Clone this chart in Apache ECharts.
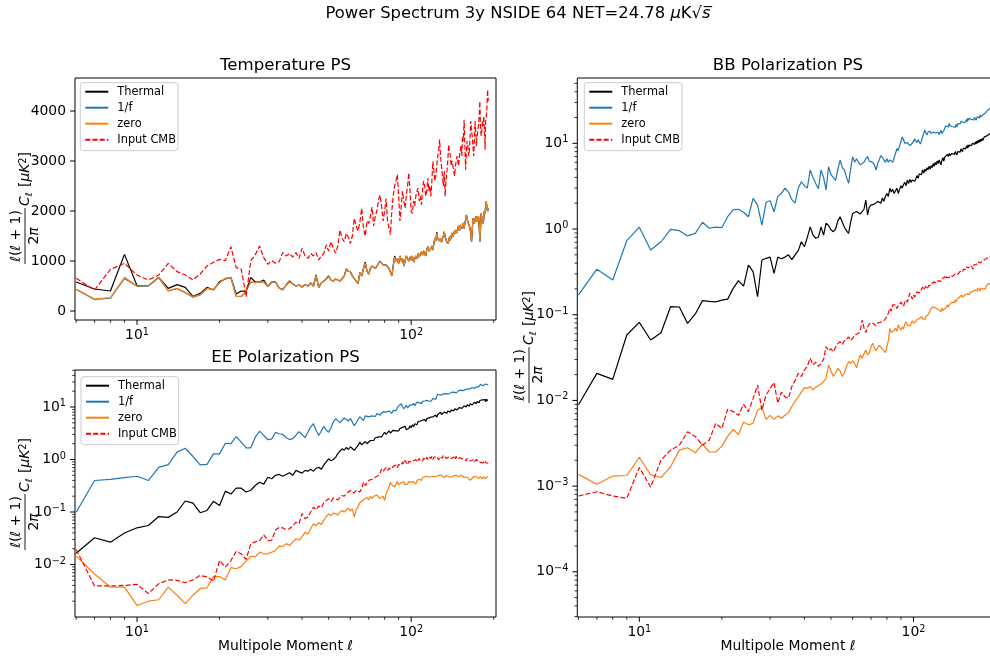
<!DOCTYPE html>
<html><head><meta charset="utf-8">
<script src="https://cdn.jsdelivr.net/npm/echarts@6/dist/echarts.min.js"></script>
<style>html,body{margin:0;padding:0;background:#fff}#c{width:990px;height:659px}</style>
</head><body><div id="c"></div>
<script>
// multipole moments l = 6 .. 191
const ell = Array.from({length:186},(_,i)=>i+6);
const seriesNames = ['Thermal','1/f','zero','Input CMB'];
const xMajorTicks = [10,100];
const xMinorTicks = [6,7,8,9,20,30,40,50,60,70,80,90,200];
const tMajorTicks = [0,1000,2000,3000,4000];

// ---------- Temperature PS ----------
const T_thermal = [
580,440,400,1133,507,507,673,453,527,473,
287,353,473,420,587,640,673,340,400,393,
673,580,580,620,487,580,580,460,430,520,
600,540,500,520,480,530,500,560,500,720,
473,560,600,640,700,620,600,640,620,600,
650,700,840,790,787,700,650,600,553,767,
700,850,980,800,740,850,900,880,850,900,
950,1000,960,920,953,920,900,850,780,700,
900,1100,1000,1050,950,1100,1000,1050,900,1000,
1100,1050,1000,1080,1020,1100,980,1020,1100,1050,
1150,1080,1100,1180,1120,1200,1150,1100,1230,1287,
1200,1180,1250,1300,1220,1350,1450,1400,1580,1450,
1480,1400,1453,1380,1413,1500,1580,1500,1420,1450,
1347,1400,1480,1420,1500,1560,1480,1520,1600,1550,
1620,1560,1650,1700,1600,1720,1680,1650,1700,1760,
1653,1750,1820,1920,1850,1780,1780,1700,1650,1550,
1387,1600,1853,1800,1750,1820,1900,1780,1850,1800,
1900,1750,1387,1650,1947,1850,1900,1753,1850,2000,
1950,2100,2187,2050,2000,2053];
const T_onef = [
430,230,255,650,495,500,665,400,448,365,
275,322,450,430,565,650,670,290,290,395,
580,567,580,580,487,580,580,460,420,520,
587,540,500,520,480,530,500,560,500,700,
473,560,600,640,687,620,600,640,620,600,
650,700,840,790,787,700,650,600,553,767,
700,850,953,800,740,850,900,880,850,900,
950,1000,960,920,953,920,900,850,780,700,
900,1073,1000,1050,950,1100,1000,1050,900,1000,
1100,1050,1000,1080,1020,1100,980,1020,1100,1050,
1150,1080,1100,1180,1120,1200,1150,1100,1230,1287,
1200,1180,1250,1300,1220,1350,1450,1400,1553,1450,
1480,1400,1453,1380,1413,1500,1580,1500,1420,1450,
1347,1400,1480,1420,1500,1560,1480,1520,1600,1550,
1620,1560,1650,1700,1600,1720,1680,1650,1700,1760,
1653,1750,1820,1920,1850,1780,1780,1700,1650,1550,
1387,1600,1853,1800,1750,1820,1900,1780,1850,1800,
1900,1750,1387,1650,1947,1850,1900,1753,1850,2000,
1950,2100,2187,2050,2000,2053];
const T_zero = [
440,240,267,673,500,507,673,407,453,373,
280,327,453,433,567,653,673,293,293,400,
580,567,580,580,487,580,580,460,420,520,
587,540,500,520,480,530,500,560,500,700,
473,560,600,640,687,620,600,640,620,600,
650,700,840,790,787,700,650,600,553,767,
700,850,953,800,740,850,900,880,850,900,
950,1000,960,920,953,920,900,850,780,700,
900,1073,1000,1050,950,1100,1000,1050,900,1000,
1100,1050,1000,1080,1020,1100,980,1020,1100,1050,
1150,1080,1100,1180,1120,1200,1150,1100,1230,1287,
1200,1180,1250,1300,1220,1350,1450,1400,1553,1450,
1480,1400,1453,1380,1413,1500,1580,1500,1420,1450,
1347,1400,1480,1420,1500,1560,1480,1520,1600,1550,
1620,1560,1650,1700,1600,1720,1680,1650,1700,1760,
1653,1750,1820,1920,1850,1780,1780,1700,1650,1550,
1387,1600,1853,1800,1750,1820,1900,1780,1850,1800,
1900,1750,1387,1650,1947,1850,1900,1753,1850,2000,
1950,2100,2187,2050,2000,2053];
const T_cmb = [
653,420,833,953,720,620,720,953,787,720,
620,740,900,973,1033,1007,1287,867,833,287,
1007,1127,1300,1067,933,1007,953,987,1167,1100,
1153,1080,1167,1053,1253,1100,1053,1150,1100,1167,
1020,1100,1150,1320,1200,1387,1250,1153,1300,1620,
1450,1387,1553,1480,1347,1500,1853,1700,1600,1780,
2053,1650,1500,1800,1750,1900,2080,1700,1900,2000,
2220,2320,2100,1800,2000,2250,1800,1660,1527,2000,
2300,2500,2600,2727,2300,1800,2100,2400,2200,2060,
2300,2500,2760,2400,1993,1950,2200,2100,2300,2400,
2460,2200,2300,2127,2400,2600,2500,2300,2400,2660,
2400,2500,2293,2600,2993,2800,2600,2700,2900,3100,
3200,3427,3100,2900,2700,2500,2800,2293,2600,2800,
3000,3327,3200,3100,2900,3000,2900,2800,2700,2900,
3000,3100,3060,2900,3100,3200,3300,3100,3500,3400,
3827,3300,2827,3200,3400,3300,3100,3200,3500,3800,
3600,3500,3300,3100,3400,3800,3600,3300,3500,3600,
3700,3900,4193,3700,3500,3600,3800,3700,3900,3600,
3227,3800,3900,4100,4427,4200];

// ---------- EE Polarization PS ----------
const EE_thermal = [
0.0164,0.0323,0.0266,0.0397,0.050,0.0553,0.082,0.079,0.10,0.162,
0.148,0.097,0.107,0.16,0.133,0.25,0.22,0.284,0.284,0.24,
0.26,0.32,0.37,0.34,0.46,0.43,0.5,0.52,0.48,0.52,
0.56,0.5,0.62,0.58,0.55,0.62,0.6,0.65,0.6,0.68,
0.71,0.65,0.78,0.9,1.03,0.95,1.0,1.1,1.3,1.45,
1.6,1.5,1.7,1.55,1.75,1.65,1.5,1.6,1.85,2.14,
1.9,2.0,2.2,2.0,2.1,2.3,2.5,2.3,2.6,2.45,
2.7,2.9,2.7,3.0,3.31,3.0,3.2,3.5,3.2,3.4,
3.6,3.3,3.5,3.8,3.5,3.9,3.6,4.1,3.8,4.3,
3.7,3.4,3.9,4.4,4.0,4.6,4.2,4.8,5.1,4.6,
5.3,4.9,5.4,5.0,5.6,5.2,5.8,5.3,6.0,5.6,
6.2,5.8,6.4,5.9,6.5,6.0,6.6,7.0,6.4,7.2,
6.6,7.5,7.95,7.2,7.8,7.0,8.0,7.4,8.2,7.6,
8.4,7.8,8.6,8.0,8.8,8.2,9.0,8.4,9.2,8.6,
9.4,8.8,9.6,9.0,9.8,9.2,10.0,9.4,10.2,9.6,
10.5,9.8,10.7,10.0,11.0,10.2,11.2,10.4,11.5,10.8,
11.8,11.0,12.0,11.2,12.3,11.4,12.5,11.6,12.8,11.8,
13.0,12.0,13.3,12.2,13.5,12.4,13.7,12.6,14.0,12.8,
13.8,12.6,14.2,13.0,14.0,13.7];
const EE_onef = [
0.099,0.398,0.42,0.45,0.48,0.398,0.71,0.80,1.38,1.64,
1.14,0.79,0.81,1.28,1.28,2.04,2.0,2.74,2.14,1.67,
1.67,2.66,3.46,2.86,2.40,2.45,3.31,3.1,3.0,2.6,
2.4,2.5,2.9,3.4,3.0,2.6,3.3,4.2,4.8,3.6,
2.86,3.5,4.3,3.6,3.3,4.0,5.2,5.96,5.5,5.0,
5.6,6.2,5.8,5.4,6.0,5.2,4.4,5.0,5.8,6.5,
6.0,5.5,6.8,7.4,6.5,6.0,6.8,7.2,6.6,7.5,
7.95,7.0,7.5,8.2,7.6,8.0,7.8,8.4,8.0,7.6,
8.6,9.2,8.5,9.6,10.5,9.8,11.5,10.2,9.25,10.0,
10.8,9.6,10.4,11.0,10.2,10.8,11.8,10.6,11.2,12.4,
11.5,12.0,12.4,11.6,12.8,12.0,13.0,12.2,13.4,12.6,
13.0,13.8,12.8,13.6,14.5,13.5,15.0,14.0,16.0,17.5,
16.5,17.9,16.8,17.5,16.2,17.8,18.5,17.0,18.0,17.4,
18.6,17.6,18.8,17.9,19.0,18.0,17.5,19.2,18.4,19.8,
18.6,20.0,19.0,20.5,19.5,20.0,21.0,19.8,21.5,20.5,
22.0,20.8,21.6,22.5,21.2,22.2,21.0,22.8,22.2,23.0,
21.8,23.5,22.4,24.0,22.5,23.8,22.8,24.5,23.5,25.0,
24.0,26.0,24.5,27.0,25.0,26.5,27.6,25.5,26.8,24.8,
26.0,27.5,25.5,26.5,25.7,26.2];
const EE_zero = [
0.0144,0.0066,0.0037,0.0037,0.00166,0.0020,0.00213,0.0037,0.0026,0.0018,
0.0026,0.0035,0.0036,0.0059,0.0059,0.0051,0.0087,0.0083,0.0092,0.0116,
0.0144,0.014,0.0172,0.016,0.016,0.0172,0.0185,0.0223,0.022,0.025,
0.023,0.027,0.031,0.029,0.034,0.041,0.038,0.048,0.0596,0.055,
0.063,0.058,0.07,0.082,0.092,0.085,0.095,0.092,0.088,0.1,
0.107,0.1,0.11,0.12,0.105,0.115,0.08,0.11,0.125,0.15,
0.14,0.17,0.16,0.19,0.17,0.2,0.18,0.2,0.19,0.21,
0.2,0.18,0.19,0.2,0.166,0.22,0.26,0.3,0.37,0.33,
0.36,0.3,0.34,0.38,0.33,0.32,0.36,0.34,0.38,0.33,
0.36,0.34,0.38,0.35,0.37,0.34,0.38,0.36,0.34,0.4,
0.38,0.42,0.43,0.4,0.45,0.42,0.47,0.44,0.48,0.5,
0.46,0.49,0.47,0.5,0.48,0.46,0.5,0.47,0.49,0.46,
0.5,0.48,0.46,0.5,0.47,0.49,0.45,0.48,0.5,0.46,
0.49,0.47,0.51,0.48,0.46,0.5,0.47,0.49,0.52,0.48,
0.5,0.46,0.49,0.47,0.5,0.48,0.51,0.47,0.49,0.46,
0.5,0.48,0.46,0.49,0.47,0.45,0.48,0.44,0.4,0.42,
0.37,0.44,0.47,0.45,0.48,0.46,0.44,0.47,0.45,0.48,
0.44,0.46,0.43,0.47,0.45,0.43,0.46,0.44,0.47,0.45,
0.43,0.46,0.44,0.47,0.45,0.46];
const EE_cmb = [
0.0193,0.0039,0.0039,0.004,0.0042,0.0028,0.0043,0.0051,0.005,0.0045,
0.0051,0.0062,0.0058,0.0048,0.0119,0.0089,0.0119,0.0177,0.016,0.0125,
0.0248,0.027,0.0286,0.0368,0.0286,0.029,0.0458,0.051,0.05,0.046,
0.048,0.055,0.064,0.06,0.093,0.075,0.08,0.1,0.124,0.11,
0.13,0.12,0.15,0.165,0.178,0.16,0.185,0.178,0.17,0.19,
0.206,0.2,0.22,0.24,0.257,0.25,0.23,0.26,0.25,0.24,
0.28,0.37,0.32,0.36,0.4,0.38,0.42,0.4,0.46,0.44,
0.496,0.55,0.66,0.6,0.64,0.7,0.62,0.68,0.72,0.66,
0.74,0.7,0.78,0.7,0.8,0.86,0.78,0.9,0.82,0.956,
0.88,0.8,0.92,0.85,0.9,0.85,0.95,0.88,1.0,0.9,
0.98,1.05,0.95,1.02,0.94,1.06,1.03,0.98,1.1,1.0,
1.12,1.19,1.05,1.15,1.0,1.1,1.2,1.05,1.15,1.08,
0.98,1.12,1.04,1.16,1.06,1.2,1.1,1.19,1.05,1.14,
1.0,1.12,1.06,1.18,1.04,1.1,1.03,1.12,1.0,1.08,
1.15,1.02,1.1,0.98,1.08,1.0,1.1,1.04,0.96,1.06,
1.0,1.09,1.03,0.95,1.05,0.98,1.04,0.94,1.0,0.92,
0.956,1.02,0.94,0.99,0.9,0.97,0.92,1.0,0.93,0.98,
0.9,0.95,0.956,0.88,0.96,0.9,0.94,0.86,0.92,0.88,
0.95,0.87,0.92,0.84,0.9,0.85];

// ---------- BB Polarization PS ----------
const BB_thermal = [
0.0089,0.0207,0.0176,0.058,0.0814,0.0507,0.0617,0.124,0.123,0.079,
0.102,0.146,0.143,0.141,0.148,0.152,0.203,0.25,0.216,0.38,
0.318,0.162,0.435,0.455,0.47,0.304,0.47,0.45,0.47,0.5,
0.44,0.5,0.56,0.71,0.62,0.8,1.06,0.85,0.78,0.8,
1.06,0.85,1.17,1.1,0.98,0.93,1.0,1.25,1.39,1.2,
1.05,0.95,0.89,1.2,1.52,1.45,1.6,1.65,1.5,1.52,
1.7,2.18,1.46,1.8,1.9,2.0,1.95,1.85,2.1,2.18,
2.0,2.3,2.1,2.4,2.6,2.4,2.99,2.7,2.9,2.6,
2.8,2.99,2.6,2.9,3.2,3.0,3.3,3.5,3.2,3.73,
3.4,3.8,3.5,3.73,3.9,3.6,3.85,4.2,3.9,4.4,
4.6,4.3,4.88,4.5,5.0,4.7,5.2,4.9,5.4,5.0,
5.5,5.2,5.8,5.4,6.0,5.6,6.2,5.8,6.4,6.0,
5.6,6.3,6.8,6.2,6.9,7.2,6.6,7.4,7.0,7.64,
7.2,7.0,7.6,7.3,7.9,7.4,8.0,7.6,7.3,8.0,
7.7,8.3,7.9,8.6,8.2,8.0,8.8,8.4,9.0,8.6,
9.3,8.8,9.55,9.0,9.55,9.2,9.8,9.4,10.0,9.5,
10.2,9.7,10.4,9.8,10.6,10.0,10.8,10.2,11.0,10.4,
11.2,10.6,11.4,10.8,11.0,11.8,11.2,12.0,11.4,12.2,
11.6,12.5,12.0,12.8,12.5,13.0];
const BB_onef = [
0.17,0.34,0.254,0.73,1.05,0.57,0.71,0.99,0.955,0.83,
0.89,1.2,1.02,1.05,1.04,1.39,1.67,1.7,1.57,1.39,
2.28,1.9,1.11,2.05,2.14,1.59,2.4,2.61,3.0,2.7,
2.2,2.0,3.0,3.56,3.2,3.0,4.88,4.0,3.4,2.95,
4.88,4.0,2.85,5.33,4.3,4.0,3.7,5.0,6.38,5.2,
4.88,4.0,3.41,5.0,6.98,6.0,6.6,6.0,5.6,5.33,
6.0,6.6,7.0,6.2,6.4,6.0,5.6,4.88,5.8,6.4,
7.2,6.98,6.4,6.0,6.6,6.0,6.4,6.6,6.0,6.8,
7.6,8.7,8.2,9.4,10.5,11.9,11.0,10.0,9.6,10.2,
10.5,9.4,9.1,10.0,10.5,11.2,10.8,10.2,11.0,10.4,
9.8,10.6,12.0,13.0,14.3,13.2,12.5,13.5,12.8,13.8,
13.0,12.4,13.5,14.0,13.2,13.8,12.8,13.5,12.6,13.2,
14.2,13.0,12.8,14.0,15.0,16.0,15.2,16.5,15.5,17.1,
16.0,15.2,16.4,15.6,14.8,16.0,15.4,16.6,15.5,17.0,
16.2,17.6,16.8,18.0,17.2,18.5,17.6,16.8,18.2,17.5,
19.0,18.0,19.6,18.5,19.6,18.8,20.0,19.0,18.2,19.6,
18.8,20.2,19.2,18.6,19.6,20.4,19.4,20.8,19.8,21.4,
20.2,21.0,20.0,21.5,20.6,22.0,21.0,22.6,21.5,23.5,
22.4,24.5,25.6,24.0,25.0,26.0];
const BB_zero = [
1.37e-3,1.05e-3,1.31e-3,1.33e-3,2.17e-3,1.35e-3,1.26e-3,1.68e-3,2.63e-3,2.8e-3,
2.45e-3,3.1e-3,2.5e-3,2.5e-3,2.93e-3,3.8e-3,4.6e-3,4.0e-3,5.6e-3,5.2e-3,
5.4e-3,7.7e-3,8.3e-3,6.0e-3,6.7e-3,6.0e-3,6.6e-3,6.2e-3,6.7e-3,7.2e-3,
8.5e-3,9.8e-3,0.011,0.0125,0.0141,0.0138,0.0145,0.0133,0.0142,0.0148,
0.0155,0.0165,0.0181,0.0259,0.022,0.019,0.021,0.0237,0.022,0.019,
0.021,0.025,0.0283,0.027,0.029,0.027,0.024,0.029,0.0339,0.031,
0.035,0.0388,0.034,0.036,0.042,0.0464,0.041,0.038,0.04,0.044,
0.043,0.04,0.038,0.036,0.0354,0.05,0.0693,0.062,0.06,0.066,
0.07,0.064,0.076,0.07,0.066,0.072,0.068,0.078,0.0827,0.076,
0.08,0.074,0.079,0.085,0.08,0.077,0.0827,0.088,0.084,0.09,
0.086,0.095,0.09,0.094,0.088,0.096,0.092,0.1,0.105,0.11,
0.118,0.112,0.124,0.118,0.12,0.114,0.12,0.116,0.11,0.115,
0.108,0.12,0.112,0.118,0.11,0.12,0.125,0.13,0.122,0.13,
0.136,0.128,0.14,0.134,0.145,0.138,0.15,0.142,0.15,0.158,
0.148,0.16,0.155,0.165,0.17,0.16,0.168,0.162,0.17,0.165,
0.165,0.175,0.168,0.18,0.172,0.185,0.178,0.194,0.185,0.19,
0.182,0.195,0.188,0.2,0.2,0.19,0.205,0.195,0.2,0.19,
0.205,0.196,0.21,0.2,0.2,0.192,0.21,0.2,0.215,0.205,
0.22,0.21,0.232,0.22,0.235,0.225];
const BB_cmb = [
7.66e-4,8.6e-4,7.66e-4,7.2e-4,1.65e-3,9.7e-4,2.02e-3,2.63e-3,3.0e-3,4.3e-3,
3.8e-3,3.0e-3,3.45e-3,5.4e-3,4.7e-3,7.9e-3,7.4e-3,6.7e-3,9.0e-3,7.4e-3,
0.0105,0.0151,7.7e-3,0.0116,0.0138,0.0162,9.3e-3,0.0125,0.011,0.0106,
0.0145,0.017,0.0207,0.019,0.0226,0.025,0.031,0.026,0.028,0.025,
0.027,0.03,0.0423,0.038,0.04,0.037,0.042,0.046,0.0484,0.045,
0.05,0.052,0.055,0.05,0.053,0.058,0.056,0.0607,0.065,0.0867,
0.07,0.062,0.072,0.078,0.075,0.08,0.077,0.074,0.08,0.076,
0.082,0.079,0.085,0.0867,0.095,0.105,0.119,0.11,0.13,0.125,
0.13,0.118,0.128,0.135,0.14,0.132,0.125,0.14,0.148,0.14,
0.16,0.178,0.165,0.152,0.17,0.16,0.175,0.185,0.194,0.18,
0.19,0.2,0.21,0.195,0.205,0.215,0.2,0.21,0.22,0.232,
0.22,0.235,0.225,0.24,0.23,0.245,0.235,0.25,0.24,0.255,
0.245,0.26,0.25,0.265,0.278,0.26,0.275,0.268,0.28,0.27,
0.285,0.275,0.29,0.28,0.295,0.285,0.3,0.29,0.305,0.295,
0.31,0.3,0.32,0.31,0.33,0.315,0.34,0.325,0.345,0.335,
0.363,0.345,0.36,0.35,0.37,0.355,0.375,0.365,0.38,0.34,
0.385,0.37,0.39,0.38,0.4,0.385,0.415,0.395,0.41,0.4,
0.42,0.405,0.425,0.41,0.43,0.415,0.44,0.425,0.45,0.435,
0.46,0.44,0.475,0.455,0.48,0.465];

const eeMajor = [0.01,0.1,1,10];
const eeMinor = [0.002,0.003,0.004,0.005,0.006,0.007,0.008,0.009,0.02,0.03,0.04,0.05,0.06,0.07,0.08,0.09,0.2,0.3,0.4,0.5,0.6,0.7,0.8,0.9,2,3,4,5,6,7,8,9,20,30,40,50];
const bbMajor = [1e-4,1e-3,0.01,0.1,1,10];
const bbMinor = [3e-5,4e-5,5e-5,6e-5,7e-5,8e-5,9e-5,2e-4,3e-4,4e-4,5e-4,6e-4,7e-4,8e-4,9e-4,0.002,0.003,0.004,0.005,0.006,0.007,0.008,0.009,0.02,0.03,0.04,0.05,0.06,0.07,0.08,0.09,0.2,0.3,0.4,0.5,0.6,0.7,0.8,0.9,2,3,4,5,6,7,8,9,20,30,40,50];

[T_thermal,T_onef,T_zero,T_cmb,EE_thermal,EE_onef,EE_zero,EE_cmb,BB_thermal,BB_onef,BB_zero,BB_cmb].forEach((a,i)=>{ if(a.length!==186) throw new Error('array '+i+' length '+a.length); });

const FONT = 'DejaVu Sans';
const COLORS = ['#000000','#1f77b4','#ff7f0e','#ff0000'];
const XMIN = 5.94, XMAX = 203.9;
const YR = [[-180,4660],[0.001,50.7],[2.97e-5,57.8]];

const chart = echarts.init(document.getElementById('c'), null, {renderer:'canvas'});

const grids = [
  {left:75, top:78, width:421, height:242},
  {left:75, top:370, width:421, height:247},
  {left:577.3, top:78, width:421, height:539}
].map(g=>Object.assign(g,{show:true, borderColor:'#000', borderWidth:1, backgroundColor:'transparent', containLabel:false, outerBoundsMode:'none'}));

const supFmt = v => {
  const l = Math.log10(v), e = Math.round(l);
  if (Math.abs(l-e) > 1e-6) return '';
  return '{b|10}{s|' + (e<0 ? '\u2212'+(-e) : e) + '}';
};
const labRich = {
  b:{fontFamily:FONT, fontSize:13.9, color:'#000', lineHeight:17},
  s:{fontFamily:FONT, fontSize:9.7, color:'#000', lineHeight:6, verticalAlign:'top'}
};

const xAxes = [0,1,2].map(i=>({
  gridIndex:i, type:'log', logBase:10, min:XMIN, max:XMAX,
  axisLine:{show:false}, axisTick:{show:false}, splitLine:{show:false}, minorTick:{show:false},
  axisLabel:{show:true, formatter:supFmt, rich:labRich, margin:7, showMinLabel:false, showMaxLabel:false}
}));
const yAxes = [
  {gridIndex:0, type:'value', min:YR[0][0], max:YR[0][1],
   axisLine:{show:false}, axisTick:{show:false}, splitLine:{show:false},
   axisLabel:{formatter:v=>(v>=0 && v%1000===0)?String(v):'', fontFamily:FONT, fontSize:13.9, color:'#000', margin:9, showMinLabel:false, showMaxLabel:false}},
  {gridIndex:1, type:'log', logBase:10, min:YR[1][0], max:YR[1][1],
   axisLine:{show:false}, axisTick:{show:false}, splitLine:{show:false},
   axisLabel:{formatter:supFmt, rich:labRich, margin:9, showMinLabel:false, showMaxLabel:false}},
  {gridIndex:2, type:'log', logBase:10, min:YR[2][0], max:YR[2][1],
   axisLine:{show:false}, axisTick:{show:false}, splitLine:{show:false},
   axisLabel:{formatter:supFmt, rich:labRich, margin:9, showMinLabel:false, showMaxLabel:false}}
];

const series = [];
const panels = [[T_thermal,T_onef,T_zero,T_cmb],[EE_thermal,EE_onef,EE_zero,EE_cmb],[BB_thermal,BB_onef,BB_zero,BB_cmb]];
panels.forEach((arrs,gi)=>arrs.forEach((arr,si)=>{
  series.push({
    type:'line', name:seriesNames[si], xAxisIndex:gi, yAxisIndex:gi,
    data: ell.map((l,i)=>[l, arr[i]]),
    showSymbol:false, symbol:'none', animation:false, silent:true, z:2,
    lineStyle:{color:COLORS[si], width:1.2, type: si===3 ? [5,2.2] : 'solid'},
    itemStyle:{color:COLORS[si]}
  });
}));

// axis ticks (matplotlib style, outward)
function tickSeries(gi, xTicks, yTicks) {
  const data = [];
  xTicks[0].forEach(v=>data.push([v, YR[gi][0], 0]));
  xTicks[1].forEach(v=>data.push([v, YR[gi][0], 1]));
  yTicks[0].forEach(v=>data.push([XMIN, v, 2]));
  yTicks[1].forEach(v=>data.push([XMIN, v, 3]));
  return {
    type:'custom', xAxisIndex:gi, yAxisIndex:gi, silent:true, clip:false, z:10, animation:false,
    data, encode:{x:0, y:1},
    renderItem:(params, api)=>{
      const p = api.coord([api.value(0), api.value(1)]);
      const k = api.value(2);
      const major = (k===0||k===2);
      const len = major ? 4.9 : 2.8;
      const shape = k<2 ? {x1:p[0], y1:p[1], x2:p[0], y2:p[1]+len} : {x1:p[0]-len, y1:p[1], x2:p[0], y2:p[1]};
      return {type:'line', shape, style:{stroke:'#000', lineWidth: major?1.0:0.8}};
    }
  };
}
series.push(tickSeries(0, [xMajorTicks, xMinorTicks], [tMajorTicks, []]));
series.push(tickSeries(1, [xMajorTicks, xMinorTicks], [eeMajor, eeMinor]));
series.push(tickSeries(2, [xMajorTicks, xMinorTicks], [bbMajor, bbMinor]));

function legendAt(left, top) {
  return {left, top, orient:'vertical', data:seriesNames, selectedMode:false,
    padding:[1,2,3,4], itemGap:0, itemWidth:23, itemHeight:10,
    itemStyle:{color:'rgba(0,0,0,0)', borderColor:'rgba(0,0,0,0)', borderWidth:0},
    backgroundColor:'rgba(255,255,255,0.8)', borderColor:'#cccccc', borderWidth:1, borderRadius:3,
    textStyle:{fontFamily:FONT, fontSize:11.4, color:'#000', lineHeight:16, padding:[0,0,0,4]}};
}

const TXT = {fontFamily:FONT, fill:'#000'};
function ttl(text, x, y, size, rich) {
  return {type:'text', x, y, silent:true, style:Object.assign({}, TXT, {text, fontSize:size, align:'center', verticalAlign:'middle', rich:rich||{}})};
}
function ylabelGroup(cx, cy) {
  const fs = 13.9;
  const it = {fontFamily:FONT, fontStyle:'italic', fontSize:fs};
  return {type:'group', x:cx, y:cy, rotation:Math.PI/2, silent:true, children:[
    {type:'text', x:-29, y:-8.5, style:Object.assign({},TXT,{text:'{i|ℓ}({i|ℓ} + 1)', fontSize:fs, align:'center', verticalAlign:'middle', rich:{i:it}})},
    {type:'line', shape:{x1:-57, y1:0, x2:-1, y2:0}, style:{stroke:'#000', lineWidth:0.9}},
    {type:'text', x:-29, y:9.5, style:Object.assign({},TXT,{text:'2{i|π}', fontSize:fs, align:'center', verticalAlign:'middle', rich:{i:it}})},
    {type:'text', x:1, y:0, style:Object.assign({},TXT,{text:'C', fontSize:fs, fontStyle:'italic', align:'left', verticalAlign:'middle'})},
    {type:'text', x:10.5, y:4.5, style:Object.assign({},TXT,{text:'ℓ', fontSize:9.7, fontStyle:'italic', align:'left', verticalAlign:'middle'})},
    {type:'text', x:20, y:0, style:Object.assign({},TXT,{text:'[{i|μK}{s|2}]', fontSize:fs, align:'left', verticalAlign:'middle',
      rich:{i:it, s:{fontFamily:FONT, fontSize:9.7, lineHeight:6, verticalAlign:'top'}}})}
  ]};
}

const graphic = [
  ttl('Power Spectrum 3y NSIDE 64 NET=24.78 {i|μ}K√{i|s\u0305}', 518, 14, 16.4, {i:{fontFamily:FONT, fontStyle:'italic', fontSize:16.4}}),
  ttl('Temperature PS', 285.5, 66, 16.6),
  ttl('EE Polarization PS', 285.5, 358, 16.6),
  ttl('BB Polarization PS', 788, 66, 16.6),
  ttl('Multipole Moment {i|ℓ}', 285.5, 646, 13.9, {i:{fontFamily:FONT, fontStyle:'italic', fontSize:13.9}}),
  ttl('Multipole Moment {i|ℓ}', 788, 646, 13.9, {i:{fontFamily:FONT, fontStyle:'italic', fontSize:13.9}}),
  ylabelGroup(25, 207),
  ylabelGroup(25, 493),
  ylabelGroup(529, 346)
];

chart.setOption({
  animation:false,
  backgroundColor:'#ffffff',
  textStyle:{fontFamily:FONT},
  grid:grids, xAxis:xAxes, yAxis:yAxes, series,
  legend:[legendAt(80.3,82.7), legendAt(81,376.7), legendAt(584.3,82.7)],
  graphic
});
</script></body></html>
